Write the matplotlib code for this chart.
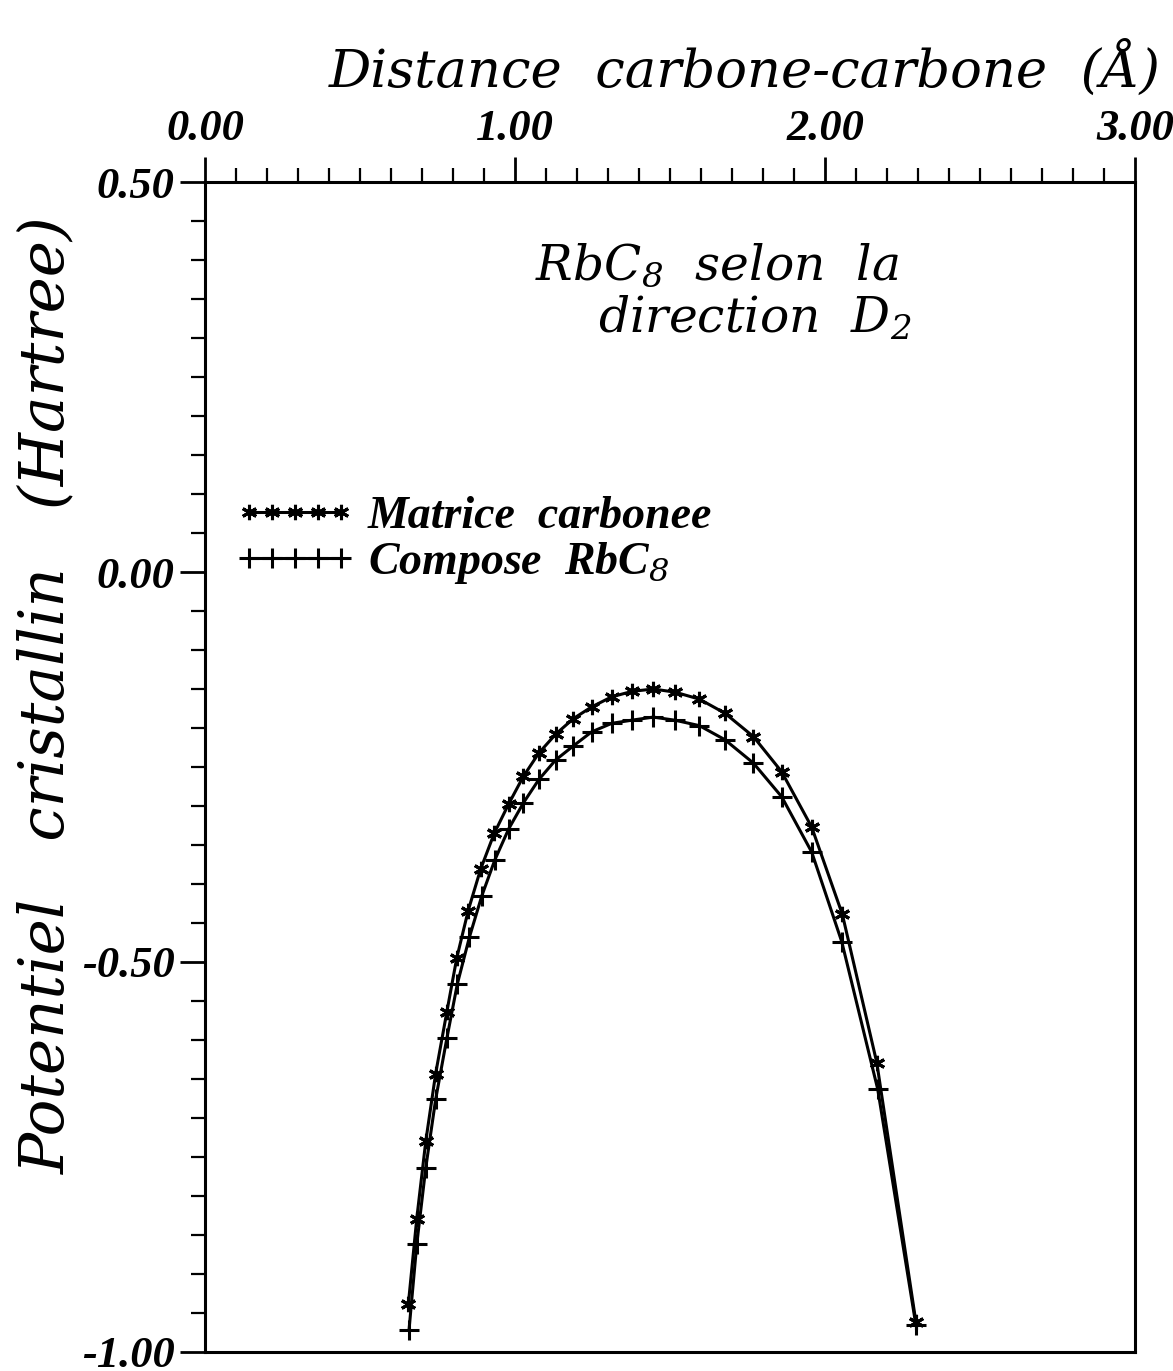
import matplotlib
matplotlib.use('Agg')
import matplotlib.pyplot as plt
from matplotlib.ticker import MultipleLocator, FormatStrFormatter

plt.rcParams['font.family'] = ['Liberation Serif', 'DejaVu Serif']
plt.rcParams['mathtext.fontset'] = 'custom'
plt.rcParams['mathtext.rm'] = 'DejaVu Serif:italic'
plt.rcParams['mathtext.it'] = 'DejaVu Serif:italic'
plt.rcParams['axes.unicode_minus'] = False

# values
x_matrice = [0.656, 0.683, 0.712, 0.744, 0.780, 0.812, 0.849, 0.889, 0.933,
             0.980, 1.027, 1.077, 1.131, 1.188, 1.247, 1.312, 1.378, 1.446,
             1.516, 1.595, 1.677, 1.769, 1.860, 1.957, 2.056, 2.167, 2.293]
y_matrice = [-0.938, -0.829, -0.730, -0.643, -0.564, -0.495, -0.434, -0.381,
             -0.335, -0.297, -0.262, -0.232, -0.208, -0.188, -0.173, -0.160,
             -0.153, -0.150, -0.154, -0.163, -0.181, -0.211, -0.256, -0.327,
             -0.439, -0.629, -0.961]

x_compose = [0.658, 0.683, 0.712, 0.744, 0.780, 0.814, 0.853, 0.893, 0.935,
             0.980, 1.027, 1.077, 1.131, 1.188, 1.247, 1.312, 1.376, 1.446,
             1.516, 1.595, 1.677, 1.769, 1.860, 1.957, 2.054, 2.170, 2.293]
y_compose = [-0.972, -0.862, -0.764, -0.676, -0.598, -0.528, -0.468, -0.415,
             -0.369, -0.329, -0.296, -0.266, -0.241, -0.223, -0.205, -0.194,
             -0.190, -0.186, -0.190, -0.197, -0.215, -0.245, -0.288, -0.359,
             -0.474, -0.663, -0.965]

labels = ['Matrice  carbonee', 'Compose  RbC$_8$']

serif_it = {'family': 'DejaVu Serif', 'style': 'italic'}

fig = plt.figure(figsize=(11.73, 13.71), dpi=100)
ax = fig.add_axes([0.1748, 0.0139, 0.9676 - 0.1748, 0.8672 - 0.0139])

asterisk = (6, 2, 0)
ax.plot(x_matrice, y_matrice, color='black', lw=2.2, marker=asterisk,
        markersize=11, markeredgewidth=2.2, label=labels[0])
ax.plot(x_compose, y_compose, color='black', lw=2.2, marker='+',
        markersize=14, markeredgewidth=2.2, label=labels[1])

ax.set_xlim(0, 3)
ax.set_ylim(-1, 0.5)

ax.xaxis.tick_top()
ax.xaxis.set_label_position('top')
ax.xaxis.set_major_locator(MultipleLocator(1.0))
ax.xaxis.set_minor_locator(MultipleLocator(0.1))
ax.yaxis.set_major_locator(MultipleLocator(0.5))
ax.yaxis.set_minor_locator(MultipleLocator(0.05))
ax.xaxis.set_major_formatter(FormatStrFormatter('%.2f'))
ax.yaxis.set_major_formatter(FormatStrFormatter('%.2f'))

ax.tick_params(axis='both', which='major', direction='out', length=18,
               width=2, labelsize=32)
ax.tick_params(axis='both', which='minor', direction='out', length=10,
               width=1.6)
ax.tick_params(axis='x', which='major', pad=6)
ax.tick_params(axis='y', which='major', pad=4)
for lab in ax.get_xticklabels() + ax.get_yticklabels():
    lab.set_fontstyle('italic')
    lab.set_fontweight('bold')

for sp in ax.spines.values():
    sp.set_linewidth(2.2)

ax.set_xlabel('Distance  carbone-carbone  (Å)', fontsize=38,
              fontdict=serif_it, labelpad=16, x=0.58)
fig.text(0.040, 0.493, 'Potentiel   cristallin   (Hartree)', fontsize=44,
         fontdict=serif_it, rotation=90, ha='center', va='center')

ax.text(0.55, 0.906, 'RbC$_8$  selon  la\n     direction  D$_2$',
        transform=ax.transAxes, fontsize=35, fontdict=serif_it,
        ha='center', va='center', linespacing=1.1)

leg = ax.legend(loc='upper left', bbox_to_anchor=(-0.012, 0.767),
                frameon=False, numpoints=5, handlelength=2.6,
                handletextpad=0.3, labelspacing=0.05,
                prop={'size': 33, 'style': 'italic', 'weight': 'bold'})

fig.savefig('out.png', dpi=100)
